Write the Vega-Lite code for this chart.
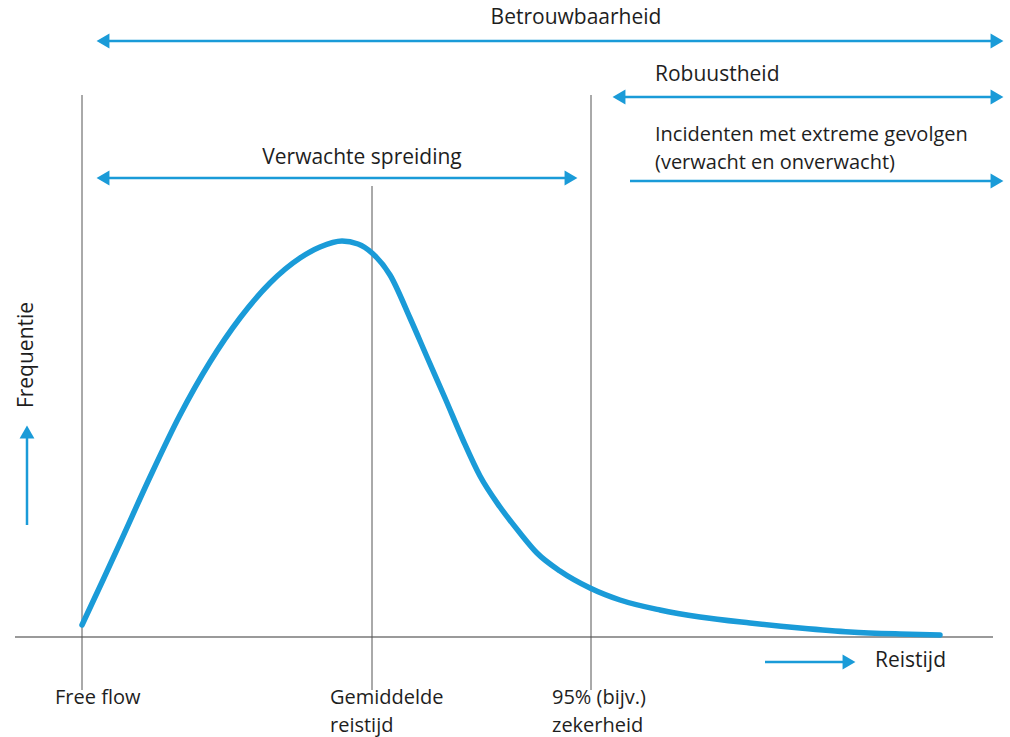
{
  "$schema": "https://vega.github.io/schema/vega-lite/v6.json",
  "autosize": {"type": "fit", "contains": "padding"},
  "width": 1010,
  "height": 737,
  "padding": 0,
  "background": "white",
  "config": {"view": {"stroke": null}},
  "datasets": {
    "curve": [
      {"t": 82, "f": 12}, {"t": 103, "f": 57}, {"t": 120, "f": 94}, {"t": 150, "f": 160},
      {"t": 180, "f": 222}, {"t": 210, "f": 275}, {"t": 240, "f": 319}, {"t": 270, "f": 354},
      {"t": 300, "f": 379}, {"t": 320, "f": 390}, {"t": 342, "f": 396}, {"t": 358, "f": 393},
      {"t": 372, "f": 384}, {"t": 390, "f": 362}, {"t": 410, "f": 319}, {"t": 427, "f": 280},
      {"t": 445, "f": 239}, {"t": 463, "f": 197}, {"t": 480, "f": 161}, {"t": 500, "f": 130},
      {"t": 520, "f": 104}, {"t": 537, "f": 84}, {"t": 560, "f": 66}, {"t": 590, "f": 49},
      {"t": 620, "f": 37}, {"t": 660, "f": 27}, {"t": 700, "f": 20}, {"t": 750, "f": 14},
      {"t": 800, "f": 9}, {"t": 850, "f": 5}, {"t": 900, "f": 3}, {"t": 940, "f": 2}
    ],
    "vlines": [
      {"t": 82, "f1": 542, "f2": -53},
      {"t": 372, "f1": 451, "f2": -53},
      {"t": 591, "f1": 542, "f2": -53}
    ],
    "baseline": [{"t1": 15, "t2": 993, "f": 0}],
    "spans": [
      {"name": "Betrouwbaarheid", "t1": 100, "t2": 1000, "f": 596},
      {"name": "Robuustheid", "t1": 616, "t2": 1000, "f": 540},
      {"name": "Incidenten", "t1": 630, "t2": 1000, "f": 456},
      {"name": "Verwachte spreiding", "t1": 100, "t2": 574, "f": 459},
      {"name": "Reistijd", "t1": 765, "t2": 852, "f": -25}
    ],
    "vspans": [{"name": "Frequentie", "t": 27, "f1": 112, "f2": 205}],
    "heads": [
      {"t": 103, "f": 596, "dir": "left"}, {"t": 997, "f": 596, "dir": "right"},
      {"t": 619, "f": 540, "dir": "left"}, {"t": 997, "f": 540, "dir": "right"},
      {"t": 997, "f": 456, "dir": "right"},
      {"t": 103, "f": 459, "dir": "left"}, {"t": 571, "f": 459, "dir": "right"},
      {"t": 849, "f": -25, "dir": "right"},
      {"t": 27, "f": 205, "dir": "up"}
    ],
    "labelsLeft": [
      {"t": 655, "f": 562, "label": "Robuustheid"},
      {"t": 875, "f": -24, "label": "Reistijd"}
    ],
    "labelsMulti": [
      {"t": 655, "f": 496, "label": "Incidenten met extreme gevolgen\n(verwacht en onverwacht)"},
      {"t": 55, "f": -67, "label": "Free flow"},
      {"t": 330, "f": -67, "label": "Gemiddelde\nreistijd"},
      {"t": 552, "f": -67, "label": "95% (bijv.)\nzekerheid"}
    ],
    "labelsCenter": [
      {"t": 576, "f": 619, "label": "Betrouwbaarheid"},
      {"t": 362, "f": 479, "label": "Verwachte spreiding"}
    ],
    "vlabels": [{"t": 27, "f": 282, "label": "Frequentie"}]
  },
  "layer": [
    {
      "data": {"name": "baseline"},
      "mark": {"type": "rule", "color": "#9a9a9a", "strokeWidth": 2},
      "encoding": {
        "x": {"field": "t1", "type": "quantitative", "scale": {"domain": [0, 1010], "nice": false, "zero": false}, "axis": null},
        "x2": {"field": "t2"},
        "y": {"field": "f", "type": "quantitative", "scale": {"domain": [-100, 637], "nice": false, "zero": false}, "axis": null}
      }
    },
    {
      "data": {"name": "vlines"},
      "mark": {"type": "rule", "color": "#555555", "strokeWidth": 1},
      "encoding": {
        "x": {"field": "t", "type": "quantitative"},
        "y": {"field": "f1", "type": "quantitative"},
        "y2": {"field": "f2"}
      }
    },
    {
      "data": {"name": "curve"},
      "mark": {"type": "line", "color": "#1a9bd8", "strokeWidth": 5.5, "interpolate": "monotone", "strokeCap": "round"},
      "encoding": {
        "x": {"field": "t", "type": "quantitative"},
        "y": {"field": "f", "type": "quantitative"}
      }
    },
    {
      "data": {"name": "spans"},
      "mark": {"type": "rule", "color": "#1a9bd8", "strokeWidth": 2.5},
      "encoding": {
        "x": {"field": "t1", "type": "quantitative"},
        "x2": {"field": "t2"},
        "y": {"field": "f", "type": "quantitative"}
      }
    },
    {
      "data": {"name": "vspans"},
      "mark": {"type": "rule", "color": "#1a9bd8", "strokeWidth": 2.5},
      "encoding": {
        "x": {"field": "t", "type": "quantitative"},
        "y": {"field": "f1", "type": "quantitative"},
        "y2": {"field": "f2"}
      }
    },
    {
      "data": {"name": "heads"},
      "mark": {"type": "point", "filled": true, "color": "#1a9bd8", "opacity": 1, "size": 220},
      "encoding": {
        "x": {"field": "t", "type": "quantitative"},
        "y": {"field": "f", "type": "quantitative"},
        "shape": {
          "field": "dir", "type": "nominal", "legend": null,
          "scale": {"domain": ["left", "right", "up"], "range": ["triangle-left", "triangle-right", "triangle-up"]}
        }
      }
    },
    {
      "data": {"name": "labelsLeft"},
      "mark": {"type": "text", "font": "Open Sans", "fontSize": 21, "color": "#1e1e1e", "baseline": "middle", "align": "left"},
      "encoding": {
        "x": {"field": "t", "type": "quantitative"},
        "y": {"field": "f", "type": "quantitative"},
        "text": {"field": "label"}
      }
    },
    {
      "data": {"name": "labelsMulti"},
      "mark": {"type": "text", "font": "Open Sans", "fontSize": 20, "color": "#1e1e1e", "baseline": "alphabetic", "align": "left", "lineBreak": "\n", "lineHeight": 27.5},
      "encoding": {
        "x": {"field": "t", "type": "quantitative"},
        "y": {"field": "f", "type": "quantitative"},
        "text": {"field": "label"}
      }
    },
    {
      "data": {"name": "labelsCenter"},
      "mark": {"type": "text", "font": "Open Sans", "fontSize": 21, "color": "#1e1e1e", "baseline": "middle", "align": "center"},
      "encoding": {
        "x": {"field": "t", "type": "quantitative"},
        "y": {"field": "f", "type": "quantitative"},
        "text": {"field": "label"}
      }
    },
    {
      "data": {"name": "vlabels"},
      "mark": {"type": "text", "font": "Open Sans", "fontSize": 21, "color": "#1e1e1e", "angle": 270, "baseline": "middle", "align": "center"},
      "encoding": {
        "x": {"field": "t", "type": "quantitative"},
        "y": {"field": "f", "type": "quantitative"},
        "text": {"field": "label"}
      }
    }
  ]
}
